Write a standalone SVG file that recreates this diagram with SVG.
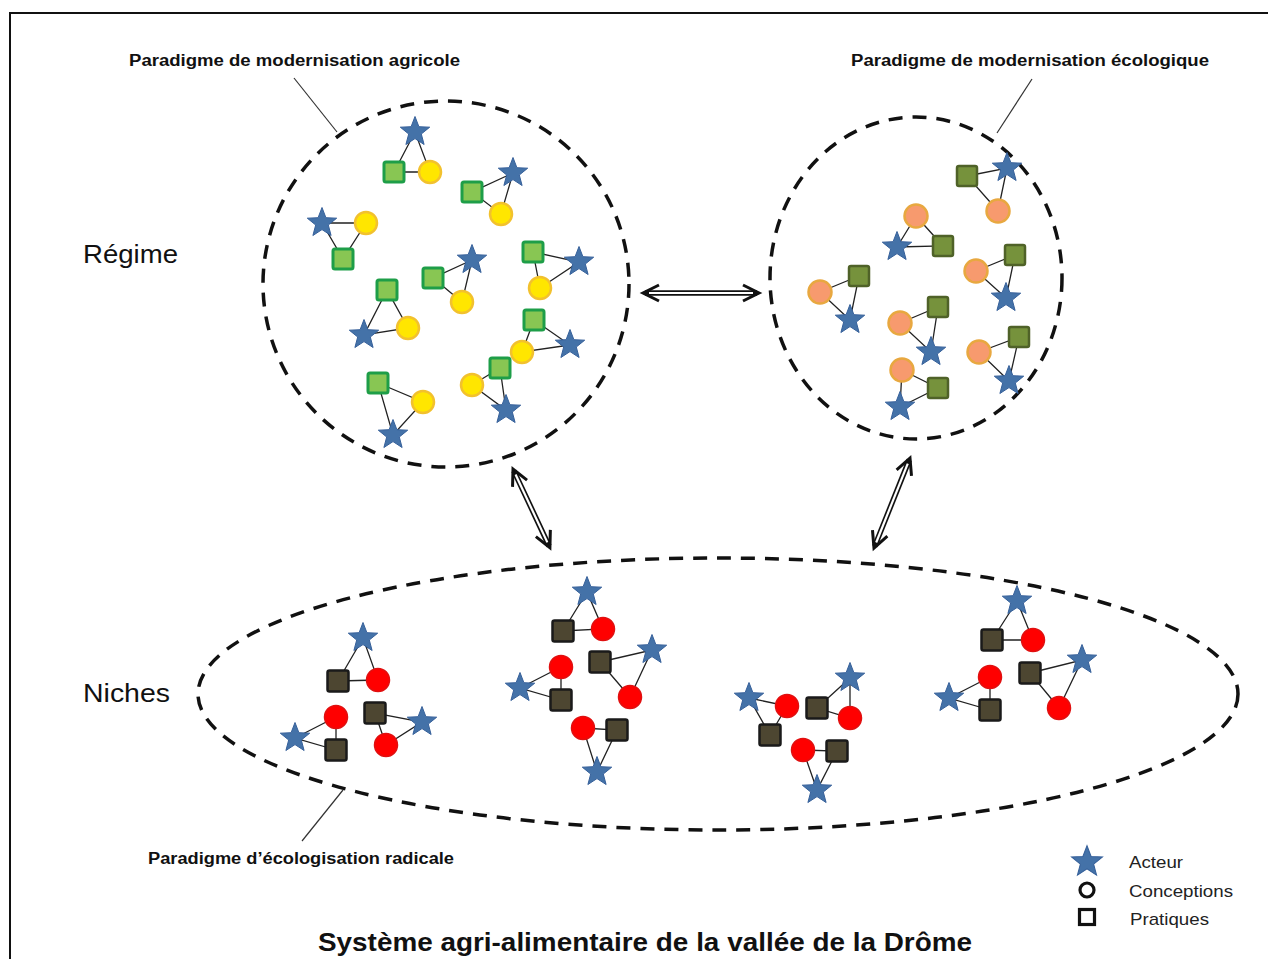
<svg xmlns="http://www.w3.org/2000/svg" width="1268" height="959" viewBox="0 0 1268 959">
<style>
.bg{fill:#fff}
.frame{fill:none;stroke:#111;stroke-width:2}
.dash{fill:none;stroke:#111;stroke-width:3.5;stroke-dasharray:14 10}
.leader{stroke:#333;stroke-width:1.2}
.edge{stroke:#222;stroke-width:1.3}
.star{fill:#4472a8;stroke:#36609a;stroke-width:1}
.sqa{fill:#88c653;stroke:#1e9e48;stroke-width:3}
.cia{fill:#ffe600;stroke:#f2c12e;stroke-width:2.5}
.sqe{fill:#76923c;stroke:#4f6228;stroke-width:2.5}
.cie{fill:#f79a6e;stroke:#e8a840;stroke-width:2.5}
.sqn{fill:#4d4631;stroke:#1a1a1a;stroke-width:2.5}
.cin{fill:#ff0000;stroke:#e01010;stroke-width:1.5}
.ashaft{stroke:#111;stroke-width:5.5}
.ainner{stroke:#fff;stroke-width:2.2}
.ahead{fill:none;stroke:#111;stroke-width:3;stroke-linejoin:miter}
.lbl{font-family:"Liberation Sans",Arial,sans-serif;font-weight:bold;font-size:16px;fill:#111}
.big{font-family:"Liberation Sans",Arial,sans-serif;font-size:25px;fill:#111}
.title{font-family:"Liberation Sans",Arial,sans-serif;font-weight:bold;font-size:25px;fill:#111}
.leg{font-family:"Liberation Sans",Arial,sans-serif;font-size:17px;fill:#222}
</style>
<defs>
<path id="star" d="M0,-15.5 L3.9,-5.3 L14.7,-4.8 L6.3,2 L9.1,12.5 L0,6.6 L-9.1,12.5 L-6.3,2 L-14.7,-4.8 L-3.9,-5.3 Z"/>
</defs>
<rect class="bg" x="0" y="0" width="1268" height="959"/>
<rect class="frame" x="10" y="13" width="1280" height="970"/>

<!-- regime / niche boundaries -->
<g id="boundaries">
<circle id="regime-agricole" class="dash" cx="446" cy="284" r="183"/>
<ellipse id="regime-ecologique" class="dash" cx="916" cy="278" rx="146" ry="161"/>
<ellipse id="niches" class="dash" cx="718" cy="694" rx="520" ry="136"/>
</g>

<!-- labels -->
<g id="labels">
<text class="lbl" x="129" y="66" textLength="331" lengthAdjust="spacingAndGlyphs">Paradigme de modernisation agricole</text>
<text class="lbl" x="851" y="66" textLength="358" lengthAdjust="spacingAndGlyphs">Paradigme de modernisation écologique</text>
<text class="lbl" x="148" y="864" textLength="306" lengthAdjust="spacingAndGlyphs">Paradigme d’écologisation radicale</text>
<text class="big" x="83" y="263" textLength="95" lengthAdjust="spacingAndGlyphs">Régime</text>
<text class="big" x="83" y="702" textLength="87" lengthAdjust="spacingAndGlyphs">Niches</text>
<text class="title" x="318" y="951" textLength="654" lengthAdjust="spacingAndGlyphs">Système agri-alimentaire de la vallée de la Drôme</text>
</g>

<!-- connectors -->
<g id="connectors">
<line class="leader" x1="294" y1="78" x2="337" y2="132"/>
<line class="leader" x1="1032" y1="79" x2="997" y2="133"/>
<line class="leader" x1="343" y1="790" x2="302" y2="841"/>

<g id="arrow-regimes" transform="translate(643,293)">
<line class="ashaft" x1="2" y1="0" x2="114" y2="0"/>
<line class="ainner" x1="6" y1="0" x2="110" y2="0"/>
<polyline class="ahead" points="16,-8 0,0 16,8"/>
<polyline class="ahead" points="100,-8 116,0 100,8"/>
</g>
<g id="arrow-agricole-niches" transform="translate(513,469) rotate(64.9)">
<line class="ashaft" x1="2" y1="0" x2="85" y2="0"/>
<line class="ainner" x1="6" y1="0" x2="81" y2="0"/>
<polyline class="ahead" points="16,-8 0,0 16,8"/>
<polyline class="ahead" points="71,-8 87,0 71,8"/>
</g>
<g id="arrow-ecologique-niches" transform="translate(910,458) rotate(111.8)">
<line class="ashaft" x1="2" y1="0" x2="95" y2="0"/>
<line class="ainner" x1="6" y1="0" x2="91" y2="0"/>
<polyline class="ahead" points="16,-8 0,0 16,8"/>
<polyline class="ahead" points="81,-8 97,0 81,8"/>
</g>

<g id="cluster-edges">
<!-- agricole -->
<polygon fill="none" class="edge" points="415,132 394,172 430,172"/>
<polygon fill="none" class="edge" points="513,173 472,192 501,214"/>
<polygon fill="none" class="edge" points="322,223 366,223 343,259"/>
<polygon fill="none" class="edge" points="472,260 433,278 462,302"/>
<polygon fill="none" class="edge" points="533,252 579,262 540,288"/>
<polygon fill="none" class="edge" points="387,290 364,335 408,328"/>
<polygon fill="none" class="edge" points="534,320 570,345 522,352"/>
<polygon fill="none" class="edge" points="500,368 472,385 506,410"/>
<polygon fill="none" class="edge" points="378,383 423,402 393,435"/>
<!-- ecologique -->
<polygon fill="none" class="edge" points="967,176 1007,168 998,211"/>
<polygon fill="none" class="edge" points="916,216 943,246 897,247"/>
<polygon fill="none" class="edge" points="820,292 859,276 850,320"/>
<polygon fill="none" class="edge" points="976,271 1015,255 1006,298"/>
<polygon fill="none" class="edge" points="900,323 938,307 931,352"/>
<polygon fill="none" class="edge" points="979,352 1019,337 1009,381"/>
<polygon fill="none" class="edge" points="902,370 938,388 900,407"/>
<!-- niches -->
<polygon fill="none" class="edge" points="363,638 338,681 378,680"/>
<polygon fill="none" class="edge" points="336,717 336,750 295,738"/>
<polygon fill="none" class="edge" points="375,713 386,745 422,722"/>
<polygon fill="none" class="edge" points="587,592 563,631 603,629"/>
<polygon fill="none" class="edge" points="561,667 561,700 520,688"/>
<polygon fill="none" class="edge" points="600,662 630,697 652,650"/>
<polygon fill="none" class="edge" points="583,728 617,730 597,772"/>
<polygon fill="none" class="edge" points="749,698 787,706 770,735"/>
<polygon fill="none" class="edge" points="817,708 850,678 850,718"/>
<polygon fill="none" class="edge" points="803,750 837,751 817,790"/>
<polygon fill="none" class="edge" points="1017,601 992,640 1033,640"/>
<polygon fill="none" class="edge" points="990,677 990,710 949,698"/>
<polygon fill="none" class="edge" points="1030,673 1059,708 1082,660"/>
</g>
</g>

<!-- agricole clusters -->
<g id="a1"><use href="#star" class="star" x="415" y="132"/><rect class="sqa" x="384" y="162" width="20" height="20" rx="2"/><circle class="cia" cx="430" cy="172" r="11"/></g>
<g id="a2"><use href="#star" class="star" x="513" y="173"/><rect class="sqa" x="462" y="182" width="20" height="20" rx="2"/><circle class="cia" cx="501" cy="214" r="11"/></g>
<g id="a3"><use href="#star" class="star" x="322" y="223"/><circle class="cia" cx="366" cy="223" r="11"/><rect class="sqa" x="333" y="249" width="20" height="20" rx="2"/></g>
<g id="a4"><use href="#star" class="star" x="472" y="260"/><rect class="sqa" x="423" y="268" width="20" height="20" rx="2"/><circle class="cia" cx="462" cy="302" r="11"/></g>
<g id="a5"><rect class="sqa" x="523" y="242" width="20" height="20" rx="2"/><use href="#star" class="star" x="579" y="262"/><circle class="cia" cx="540" cy="288" r="11"/></g>
<g id="a6"><rect class="sqa" x="377" y="280" width="20" height="20" rx="2"/><use href="#star" class="star" x="364" y="335"/><circle class="cia" cx="408" cy="328" r="11"/></g>
<g id="a7"><rect class="sqa" x="524" y="310" width="20" height="20" rx="2"/><use href="#star" class="star" x="570" y="345"/><circle class="cia" cx="522" cy="352" r="11"/></g>
<g id="a8"><rect class="sqa" x="490" y="358" width="20" height="20" rx="2"/><circle class="cia" cx="472" cy="385" r="11"/><use href="#star" class="star" x="506" y="410"/></g>
<g id="a9"><rect class="sqa" x="368" y="373" width="20" height="20" rx="2"/><circle class="cia" cx="423" cy="402" r="11"/><use href="#star" class="star" x="393" y="435"/></g>

<!-- ecologique clusters -->
<g id="e1"><rect class="sqe" x="957" y="166" width="20" height="20" rx="2"/><use href="#star" class="star" x="1007" y="168"/><circle class="cie" cx="998" cy="211" r="11.5"/></g>
<g id="e2"><circle class="cie" cx="916" cy="216" r="11.5"/><rect class="sqe" x="933" y="236" width="20" height="20" rx="2"/><use href="#star" class="star" x="897" y="247"/></g>
<g id="e3"><circle class="cie" cx="820" cy="292" r="11.5"/><rect class="sqe" x="849" y="266" width="20" height="20" rx="2"/><use href="#star" class="star" x="850" y="320"/></g>
<g id="e4"><circle class="cie" cx="976" cy="271" r="11.5"/><rect class="sqe" x="1005" y="245" width="20" height="20" rx="2"/><use href="#star" class="star" x="1006" y="298"/></g>
<g id="e5"><circle class="cie" cx="900" cy="323" r="11.5"/><rect class="sqe" x="928" y="297" width="20" height="20" rx="2"/><use href="#star" class="star" x="931" y="352"/></g>
<g id="e6"><circle class="cie" cx="979" cy="352" r="11.5"/><rect class="sqe" x="1009" y="327" width="20" height="20" rx="2"/><use href="#star" class="star" x="1009" y="381"/></g>
<g id="e7"><circle class="cie" cx="902" cy="370" r="11.5"/><rect class="sqe" x="928" y="378" width="20" height="20" rx="2"/><use href="#star" class="star" x="900" y="407"/></g>

<!-- niche clusters -->
<g id="n1"><use href="#star" class="star" x="363" y="638"/><rect class="sqn" x="327.5" y="670.5" width="21" height="21" rx="2"/><circle class="cin" cx="378" cy="680" r="11.5"/></g>
<g id="n2"><circle class="cin" cx="336" cy="717" r="11.5"/><rect class="sqn" x="325.5" y="739.5" width="21" height="21" rx="2"/><use href="#star" class="star" x="295" y="738"/></g>
<g id="n3"><rect class="sqn" x="364.5" y="702.5" width="21" height="21" rx="2"/><circle class="cin" cx="386" cy="745" r="11.5"/><use href="#star" class="star" x="422" y="722"/></g>
<g id="n4"><use href="#star" class="star" x="587" y="592"/><rect class="sqn" x="552.5" y="620.5" width="21" height="21" rx="2"/><circle class="cin" cx="603" cy="629" r="11.5"/></g>
<g id="n5"><circle class="cin" cx="561" cy="667" r="11.5"/><rect class="sqn" x="550.5" y="689.5" width="21" height="21" rx="2"/><use href="#star" class="star" x="520" y="688"/></g>
<g id="n6"><rect class="sqn" x="589.5" y="651.5" width="21" height="21" rx="2"/><circle class="cin" cx="630" cy="697" r="11.5"/><use href="#star" class="star" x="652" y="650"/></g>
<g id="n7"><circle class="cin" cx="583" cy="728" r="11.5"/><rect class="sqn" x="606.5" y="719.5" width="21" height="21" rx="2"/><use href="#star" class="star" x="597" y="772"/></g>
<g id="n8"><use href="#star" class="star" x="749" y="698"/><circle class="cin" cx="787" cy="706" r="11.5"/><rect class="sqn" x="759.5" y="724.5" width="21" height="21" rx="2"/></g>
<g id="n9"><rect class="sqn" x="806.5" y="697.5" width="21" height="21" rx="2"/><use href="#star" class="star" x="850" y="678"/><circle class="cin" cx="850" cy="718" r="11.5"/></g>
<g id="n10"><circle class="cin" cx="803" cy="750" r="11.5"/><rect class="sqn" x="826.5" y="740.5" width="21" height="21" rx="2"/><use href="#star" class="star" x="817" y="790"/></g>
<g id="n11"><use href="#star" class="star" x="1017" y="601"/><rect class="sqn" x="981.5" y="629.5" width="21" height="21" rx="2"/><circle class="cin" cx="1033" cy="640" r="11.5"/></g>
<g id="n12"><circle class="cin" cx="990" cy="677" r="11.5"/><rect class="sqn" x="979.5" y="699.5" width="21" height="21" rx="2"/><use href="#star" class="star" x="949" y="698"/></g>
<g id="n13"><rect class="sqn" x="1019.5" y="662.5" width="21" height="21" rx="2"/><circle class="cin" cx="1059" cy="708" r="11.5"/><use href="#star" class="star" x="1082" y="660"/></g>

<!-- legend -->
<g id="legend">
<use href="#star" class="star" transform="translate(1087,862) scale(1.05)"/>
<circle cx="1087" cy="890" r="7" fill="none" stroke="#111" stroke-width="3.2"/>
<rect x="1079.5" y="909.5" width="15" height="15" fill="none" stroke="#111" stroke-width="3.2"/>
<text class="leg" x="1129" y="868" textLength="54" lengthAdjust="spacingAndGlyphs">Acteur</text>
<text class="leg" x="1129" y="897" textLength="104" lengthAdjust="spacingAndGlyphs">Conceptions</text>
<text class="leg" x="1130" y="925" textLength="79" lengthAdjust="spacingAndGlyphs">Pratiques</text>
</g>
</svg>
